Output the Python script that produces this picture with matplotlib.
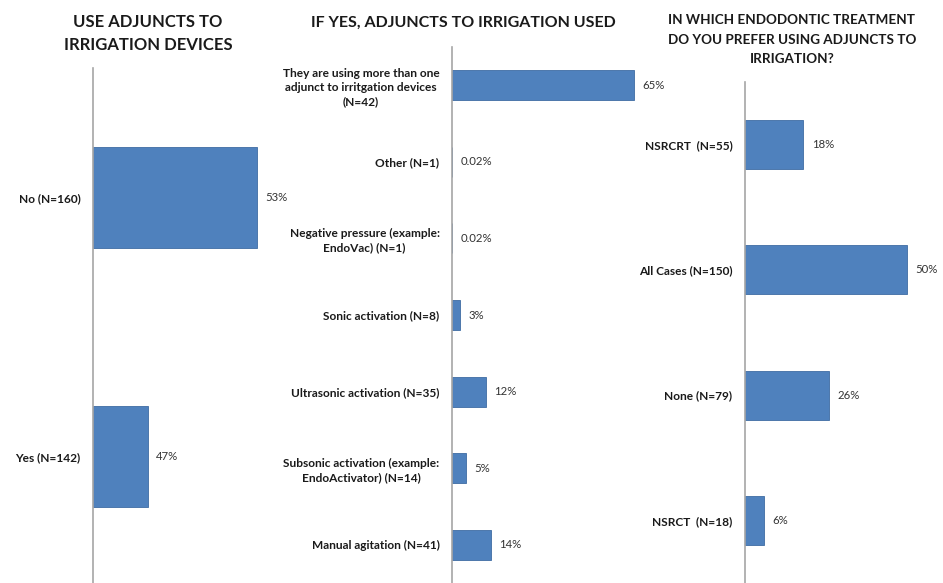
import matplotlib
matplotlib.use("Agg")
import matplotlib.pyplot as plt

plt.rcParams["font.family"] = ["Lato", "DejaVu Sans"]

# Panel 1: use adjuncts to irrigation devices
use_labels = ["No (N=160)", "Yes (N=142)"]
use_values = [53, 47]

# Panel 2: adjuncts used
type_labels = [
    "They are using more than one\nadjunct to irritgation devices\n(N=42)",
    "Other (N=1)",
    "Negative pressure (example:\nEndoVac) (N=1)",
    "Sonic activation (N=8)",
    "Ultrasonic activation (N=35)",
    "Subsonic activation (example:\nEndoActivator) (N=14)",
    "Manual agitation (N=41)",
]
type_values = [65, 0.02, 0.02, 3, 12, 5, 14]
type_text = ["65%", "0.02%", "0.02%", "3%", "12%", "5%", "14%"]

# Panel 3: preferred treatment
treat_labels = ["NSRCRT  (N=55)", "All Cases (N=150)", "None (N=79)", "NSRCT  (N=18)"]
treat_values = [18, 50, 26, 6]

W, H = 943, 583
fig = plt.figure(figsize=(W / 100, H / 100), dpi=100)

BAR = "#4f81bd"
EDGE = "#3e6ca3"
AXC = "#a6a6a6"


def panel(rect, labels, values, texts, xlim, title, title_x, title_y,
          title_size, title_ls):
    x0, y0, x1, y1 = rect
    ax = fig.add_axes([x0 / W, 1 - y1 / H, (x1 - x0) / W, (y1 - y0) / H])
    pos = list(range(len(labels)))
    ax.barh(pos, [v - xlim[0] for v in values], left=xlim[0], height=0.39,
            color=BAR, edgecolor=EDGE, linewidth=0.6)
    ax.set_ylim(len(labels) - 0.5, -0.5)
    ax.set_xlim(*xlim)
    ax.set_yticks(pos)
    ax.set_yticklabels(labels, fontsize=8.6, fontweight="bold", color="#1a1a1a",
                       multialignment="center", linespacing=1.3)
    ax.tick_params(axis="y", length=0, pad=9)
    ax.set_xticks([])
    for s in ["top", "right", "bottom"]:
        ax.spines[s].set_visible(False)
    ax.spines["left"].set_color(AXC)
    ax.spines["left"].set_linewidth(1.2)
    for p, v, t in zip(pos, values, texts):
        ax.annotate(t, (v, p), xytext=(6, 0), textcoords="offset points",
                    va="center", ha="left", fontsize=8.2, color="#333333")
    fig.text(title_x / W, 1 - title_y / H, title, ha="center", va="top",
             fontsize=title_size, fontweight="bold", color="#1a1a1a",
             linespacing=title_ls)
    return ax


panel((93, 68, 330, 586), use_labels, use_values,
      [f"{v}%" for v in use_values], (44, 57),
      "USE ADJUNCTS TO\nIRRIGATION DEVICES", 148, 14, 12, 1.5)
panel((452, 47, 700, 583), type_labels, type_values, type_text, (0, 88.6),
      "IF YES, ADJUNCTS TO IRRIGATION USED", 463, 16, 11.5, 1.2)
panel((745, 82, 935, 583), treat_labels, treat_values,
      [f"{v}%" for v in treat_values], (0, 58.6),
      "IN WHICH ENDODONTIC TREATMENT\nDO YOU PREFER USING ADJUNCTS TO\nIRRIGATION?",
      792, 14, 9.7, 1.75)

fig.savefig("out.png", dpi=100)
